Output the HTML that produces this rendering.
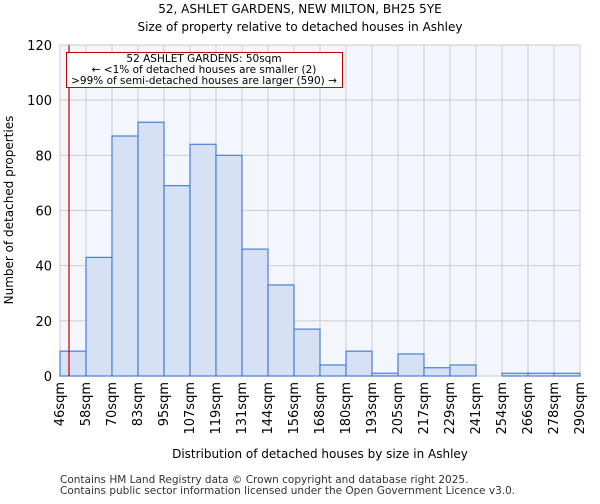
<!DOCTYPE html>
<html><head><meta charset="utf-8"><style>
body{margin:0;background:#fff;font-family:"DejaVu Sans","Liberation Sans",sans-serif}
</style></head><body>
<svg width="600" height="500" xmlns="http://www.w3.org/2000/svg" font-family="DejaVu Sans, Liberation Sans, sans-serif">
<text x="300" y="13" text-anchor="middle" font-size="12">52, ASHLET GARDENS, NEW MILTON, BH25 5YE</text>
<text x="300" y="31" text-anchor="middle" font-size="12">Size of property relative to detached houses in Ashley</text>
<rect x="60" y="45" width="520" height="331" fill="#f3f6fd"/>
<g id="grid"></g><g id="bars"></g><g id="axes"></g>
<text transform="translate(13,210) rotate(-90)" text-anchor="middle" font-size="12">Number of detached properties</text>
<text x="320" y="458" text-anchor="middle" font-size="12">Distribution of detached houses by size in Ashley</text>
<text x="60" y="483" font-size="10.5" fill="#333">Contains HM Land Registry data © Crown copyright and database right 2025.</text>
<text x="60" y="494" font-size="10.5" fill="#333">Contains public sector information licensed under the Open Government Licence v3.0.</text>
<line x1="69" y1="45" x2="69" y2="376" stroke="#c00000" stroke-width="1.2"/>
<g>
<rect x="66.5" y="52.5" width="276" height="35" fill="#fff" stroke="#c00000"/>
<text x="204" y="62" text-anchor="middle" font-size="10.5">52 ASHLET GARDENS: 50sqm</text>
<text x="204" y="73" text-anchor="middle" font-size="10.5">← &lt;1% of detached houses are smaller (2)</text>
<text x="204" y="84" text-anchor="middle" font-size="10.5">&gt;99% of semi-detached houses are larger (590) →</text>
</g>
</svg>
<script>
const categories=["46sqm","58sqm","70sqm","83sqm","95sqm","107sqm","119sqm","131sqm","144sqm","156sqm","168sqm","180sqm","193sqm","205sqm","217sqm","229sqm","241sqm","254sqm","266sqm","278sqm","290sqm"];
const counts=[9,43,87,92,69,84,80,46,33,17,4,9,1,8,3,4,0,1,1,1];
const yTicks=[0,20,40,60,80,100,120];
const NS="http://www.w3.org/2000/svg";
const L=60,R=580,T=45,B=376,YMAX=120;
const n=counts.length,bw=(R-L)/n;
const xs=i=>L+i*bw, ys=v=>B-v/YMAX*(B-T);
function mk(tag,attrs,parent){const e=document.createElementNS(NS,tag);for(const k in attrs)e.setAttribute(k,attrs[k]);document.getElementById(parent).appendChild(e);return e;}
const grid="grid";
for(let i=0;i<=n;i++){const l=mk("line",{x1:xs(i),x2:xs(i),y1:T,y2:B,stroke:"#ccc","stroke-width":1},grid);

}
yTicks.forEach(v=>{const l=mk("line",{x1:L,x2:R,y1:ys(v),y2:ys(v),stroke:"#ccc","stroke-width":1},grid);


const t=mk("text",{x:L-8,y:ys(v)+5,"text-anchor":"end","font-size":13},"axes");t.textContent=v;

});
counts.forEach((v,i)=>{const r=mk("rect",{x:xs(i),y:ys(v),width:bw,height:B-ys(v),fill:"#d6e1f5",stroke:"#4a7fd4","stroke-width":1.2},"bars");

});
categories.forEach((c,i)=>{const t=mk("text",{transform:`translate(${xs(i)+4},382) rotate(-90)`,"text-anchor":"end","font-size":13},"axes");t.textContent=c;

});
</script>
</body></html>
